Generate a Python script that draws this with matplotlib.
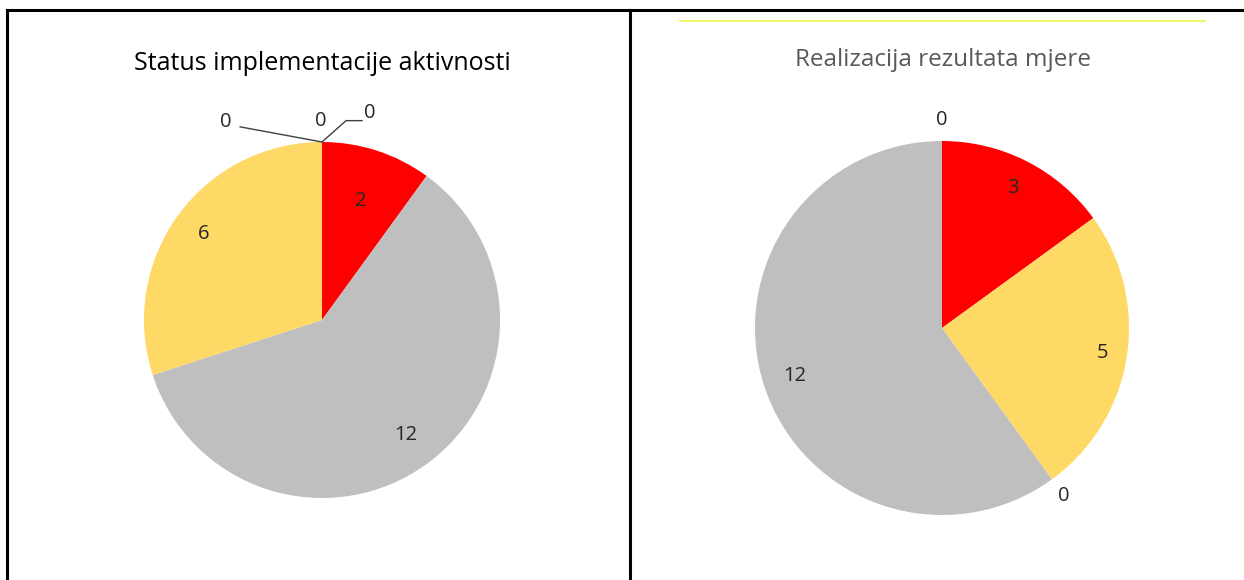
import matplotlib
matplotlib.use('Agg')
import matplotlib.pyplot as plt
import numpy as np
from matplotlib.lines import Line2D

plt.rcParams['font.family'] = ['Open Sans', 'DejaVu Sans']

# lijevi graf
left_title = 'Status implementacije aktivnosti'
left_vals = [2, 12, 6, 0, 0, 0]
left_cols = ['#FF0000', '#BFBFBF', '#FFD966', '#5B9BD5', '#70AD47', '#4472C4']

# desni graf
right_title = 'Realizacija rezultata mjere'
right_vals = [3, 5, 0, 12, 0]
right_cols = ['#FF0000', '#FFD966', '#70AD47', '#BFBFBF', '#5B9BD5']

W, H = 1244, 580
FS = 14.5
fig = plt.figure(figsize=(W / 100, H / 100), dpi=100)


def pie_ax(cx, cy, r, vals, cols):
    ax = fig.add_axes([(cx - r) / W, (H - cy - r) / H, 2 * r / W, 2 * r / H])
    ax.pie(vals, colors=cols, startangle=90, counterclock=False, radius=1,
           wedgeprops=dict(linewidth=0))
    ax.set_xlim(-1, 1); ax.set_ylim(-1, 1); ax.set_aspect('equal'); ax.axis('off')
    return ax


def mid_angles(vals):
    tot = float(sum(vals)); a = 0.0; out = []
    for v in vals:
        out.append(a + v / tot * 180.0); a += v / tot * 360.0
    return out  # stupnjevi od vrha, u smjeru kazaljke


def put(ax, ang, d, txt):
    t = np.deg2rad(ang)
    ax.text(d * np.sin(t), d * np.cos(t), txt, ha='center', va='center',
            fontsize=FS, color='#262626', clip_on=False)


# ---- lijevo
axl = pie_ax(322, 320, 178, left_vals, left_cols)
ml = mid_angles(left_vals)
for i, d in [(0, 0.70), (1, 0.80), (2, 0.82)]:
    put(axl, ml[i], d, str(left_vals[i]))
# nule na vrhu s linijama
for x, y, v in [(-0.005, 1.12, left_vals[3]), (-0.54, 1.11, left_vals[4]), (0.27, 1.165, left_vals[5])]:
    axl.text(x, y, str(v), ha='center', va='center', fontsize=FS, color='#262626', clip_on=False)
axl.plot([-0.46, 0, 0.135, 0.225], [1.085, 1.0, 1.12, 1.12], color='#404040', lw=1, clip_on=False)
fig.text(322 / W, 1 - 64 / H, left_title, ha='center', va='center', fontsize=18, color='black')

# ---- desno
axr = pie_ax(942, 328, 187, right_vals, right_cols)
mr = mid_angles(right_vals)
for i, d in [(0, 0.84), (1, 0.87), (3, 0.83)]:
    put(axr, mr[i], d, str(right_vals[i]))
put(axr, mr[2], 1.11, str(right_vals[2]))
put(axr, 0.0, 1.11, str(right_vals[4]))
fig.text(943 / W, 1 - 60 / H, right_title, ha='center', va='center', fontsize=17.5, color='#595959')

# okvir tablice
for xs, ys, c, lw in [([7, W], [10, 10], 'black', 2.2),
                      ([7, 7], [10, H], 'black', 2.2),
                      ([630, 630], [10, H], 'black', 2.2),
                      ([680, 1205], [21, 21], '#F2F24A', 1.2)]:
    fig.add_artist(Line2D([x / W for x in xs], [1 - y / H for y in ys], color=c, lw=lw))

fig.savefig('out.png', dpi=100)
